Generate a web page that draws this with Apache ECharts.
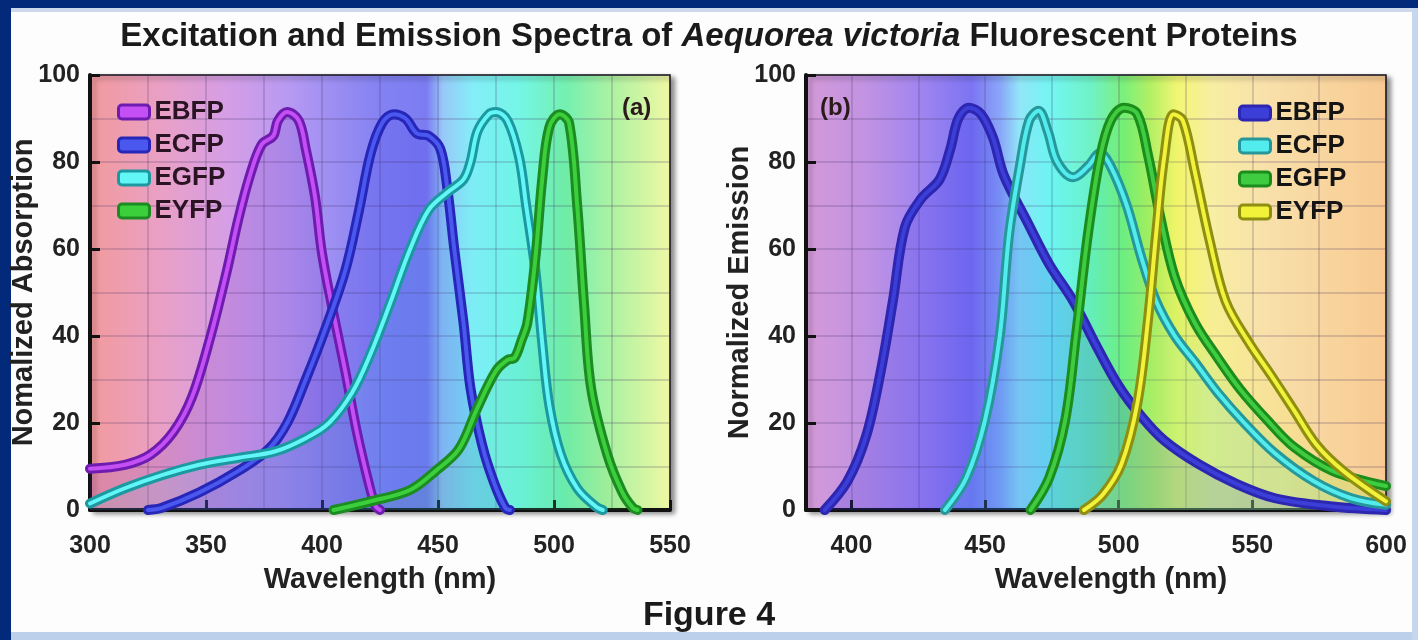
<!DOCTYPE html>
<html>
<head>
<meta charset="utf-8">
<script src="https://cdn.jsdelivr.net/npm/echarts@6/dist/echarts.min.js"></script>
<style>
  html, body { margin: 0; padding: 0; background: #02297a; }
  #wrap { position: relative; width: 1418px; height: 640px; overflow: hidden; background: #02297a; }
  .panel { position: absolute; left: 11px; top: 8px; width: 1401px; height: 624px; background: #fdfdfd; border-top: 4px solid #cdd8ec; box-sizing: border-box; }
  .strip-b { position: absolute; left: 11px; top: 632px; width: 1407px; height: 8px; background: #bcd0ec; }
  .strip-r { position: absolute; left: 1412px; top: 8px; width: 6px; height: 632px; background: #c6d6ee; }
  #chart { position: absolute; left: 0; top: 0; width: 1418px; height: 640px; }
</style>
</head>
<body>
<div id="wrap">
  <div class="panel"></div>
  <div class="strip-b"></div>
  <div class="strip-r"></div>
  <div id="chart"></div>
</div>
<script>
// panel (a): absorption, [wavelength nm, normalized value]
const absEBFP = [[300,9.5],[315,10.4],[326,12.7],[336,18],[344,26],[352,40],[359,55],[364,67],[369,77],[374,84],[379,86],[381,89.5],[385,91.5],[390,89.5],[393,83],[397,72],[400,59],[405,45],[410,32],[415,18],[420,6.5],[423,1],[425,0]]
const absECFP = [[325,0],[331,0.5],[347,4],[364,9],[377,14],[385,20],[393,30],[401,41],[410,55],[416,69],[421,82],[426,89],[431,91],[436,90],[441,86.5],[446,86],[451,83],[454,74],[457,60],[461,43],[464,28],[469,15],[474,6.5],[479,0.5],[481,0]]
const absEGFP = [[300,1.5],[315,5],[331,8],[347,10.4],[364,12],[380,13.5],[393,16.5],[403,20],[413,27],[421,36],[429,47],[438,60],[446,69],[454,73],[461,76],[464,80],[467,87],[472,91],[475,91.5],[480,89.5],[485,81],[488,70],[492,55],[495,38],[498,24],[503,12.7],[510,5],[518,0.8],[521,0]]
const absEYFP = [[405,0],[421,2],[438,4.6],[449,9],[459,14],[467,23.5],[475,32],[480,34.5],[483,35],[486,39],[488.5,43],[492,58],[495,76.5],[498,88],[502.5,91],[506.5,89],[510,70],[513,47],[516,28],[523,12.7],[529.5,4],[534,0.5],[536,0]]

// panel (b): emission
const emEBFP = [[390,0],[398.5,6.6],[405.5,17],[411,32],[415.5,48],[420,65],[426,71.5],[433,76],[437,83],[440,90],[444,92.5],[448.5,91],[453,85.5],[457,77],[466,66],[474,56.5],[483,48],[491,38.5],[500,28.5],[508.5,21.5],[517,16],[530,10.5],[544,6],[558.5,2.7],[580,0.8],[600,0]]
const emECFP = [[435,0],[443,7.4],[450,20.7],[455.5,40],[459,63.5],[463,79],[466.5,89.5],[470,91.8],[473.5,87],[477,80],[483,76.5],[488.5,79],[493,82],[497,79],[503,70],[508.5,58],[514,48],[521,40],[528.5,34],[537,27],[547,20],[558.5,13],[573,6.6],[587,2.7],[600,1.2]]
const emEGFP = [[467,0],[474,7.4],[480,20.7],[484,40],[488.5,63.5],[493,81],[497,89.5],[502,92.5],[507,91],[511,81.5],[515.5,67.5],[521,53.5],[528.5,43],[537,35],[545.5,27.7],[555.5,20.7],[565.5,14.5],[580,9],[600,5.5]]
const emEYFP = [[487,0],[494,3.5],[501,10.5],[507,24.6],[511,44],[514,63.5],[517,81],[520.5,91],[524,89.5],[528.5,77.7],[534,62],[540,48],[548.5,38.7],[557,31],[565.5,23],[574,15],[584,9],[600,2]]

const proteins = ['EBFP', 'ECFP', 'EGFP', 'EYFP']

const FONT = '"Liberation Sans", Arial, sans-serif'
const gridColor = 'rgba(70,50,100,0.2)'

// spectrum colours behind each plot, keyed by wavelength
const absBand = [[300,'#f29a9c'],[330,'#eaa0c4'],[360,'#d59ee6'],[385,'#b89af2'],[405,'#9c8ef2'],[425,'#8482f2'],[445,'#7c7cf2'],[452,'#98c8f8'],[465,'#84eef8'],[485,'#74f6e6'],[505,'#74f0b0'],[525,'#aef2a2'],[550,'#f0f8a4']]
const emBand = [[383,'#d49ad8'],[405,'#c293e2'],[425,'#a286f0'],[445,'#7c74f2'],[456,'#8aa8f8'],[463,'#92e6f8'],[475,'#72f6f2'],[490,'#70f2c4'],[502,'#7cf07a'],[512,'#b4f064'],[522,'#f2f674'],[535,'#f8eea4'],[555,'#f8e0aa'],[600,'#f8ca92']]

function band(stops, min, max) {
  return new echarts.graphic.LinearGradient(0, 0, 1, 0,
    stops.map(s => ({ offset: (s[0] - min) / (max - min), color: s[1] })))
}

function gridBox(left, bg) {
  return {
    left: left, top: 75, width: 580, height: 435,
    show: true, backgroundColor: bg,
    borderColor: '#111', borderWidth: 1.5,
    shadowColor: 'rgba(0,0,0,0.45)', shadowBlur: 5, shadowOffsetX: 4, shadowOffsetY: 3,
    outerBoundsMode: 'none'
  }
}

const labelStyle = { fontFamily: FONT, fontWeight: 'bold', fontSize: 25, color: '#222' }
const nameStyle = { fontFamily: FONT, fontWeight: 'bold', fontSize: 29, color: '#222' }

function xAxis(gi, min, max, extra) {
  return Object.assign({
    type: 'value', gridIndex: gi, min: min, max: max,
    name: 'Wavelength (nm)', nameLocation: 'middle', nameGap: 55, nameMoveOverlap: false,
    nameTextStyle: nameStyle,
    axisLine: { show: true, onZero: false, lineStyle: { color: '#111', width: 4 } },
    axisTick: { show: true, inside: true, length: 10, lineStyle: { color: '#111', width: 3 } },
    axisLabel: Object.assign({ margin: 24 }, labelStyle),
    splitLine: { show: true, lineStyle: { color: gridColor, width: 2 } },
    minorTick: { show: false, splitNumber: 2 },
    minorSplitLine: { show: true, lineStyle: { color: gridColor, width: 2 } }
  }, extra)
}

function yAxis(gi, name) {
  return {
    type: 'value', gridIndex: gi, min: 0, max: 100, interval: 20,
    name: name, nameLocation: 'middle', nameGap: 52, nameMoveOverlap: false,
    nameTextStyle: nameStyle,
    axisLine: { show: true, onZero: false, lineStyle: { color: '#111', width: 4 } },
    axisTick: { show: true, inside: true, length: 10, lineStyle: { color: '#111', width: 3 } },
    axisLabel: Object.assign({ margin: 10 }, labelStyle),
    splitLine: { show: true, lineStyle: { color: gridColor, width: 2 } },
    minorTick: { show: false, splitNumber: 2 },
    minorSplitLine: { show: true, lineStyle: { color: gridColor, width: 2 } }
  }
}

// one curve = soft fill + dark outline + bright core
function curve(name, data, gi, k, outer, core, fill) {
  const base = { name: name, type: 'line', xAxisIndex: gi, yAxisIndex: gi, data: data,
    smooth: 0.35, symbol: 'none', silent: true, itemStyle: { color: core } }
  return [
    Object.assign({}, base, { z: 2, lineStyle: { width: 0 }, areaStyle: { color: fill, origin: 'start' } }),
    Object.assign({}, base, { z: 3 + 2 * k, lineStyle: { color: outer, width: 10, cap: 'round', join: 'round' } }),
    Object.assign({}, base, { z: 4 + 2 * k, lineStyle: { color: core, width: 4, cap: 'round', join: 'round' } })
  ]
}

function legendFor(left, top, textColor, styles) {
  return {
    left: left, top: top, orient: 'vertical', icon: 'roundRect', selectedMode: false,
    itemWidth: 31, itemHeight: 14, itemGap: 7,
    textStyle: { fontFamily: FONT, fontWeight: 'bold', fontSize: 26, color: textColor },
    data: proteins.map((p, i) => ({ name: p, itemStyle: { color: styles[i][1], borderColor: styles[i][0], borderWidth: 3 } }))
  }
}

const absStyle = [['#6e1cb0', '#c450f5'], ['#2626b8', '#4a58f0'], ['#1c98a0', '#62f6f6'], ['#1c8c22', '#3ccf3c']]
const emStyle = [['#2c26b0', '#3c3ed8'], ['#27989a', '#52ecef'], ['#1c8c1c', '#40cc40'], ['#8e8e10', '#f2f23a']]

const chart = echarts.init(document.getElementById('chart'), null, { renderer: 'canvas' })
chart.setOption({
  animation: false,
  backgroundColor: 'transparent',
  title: [
    {
      text: '{a|Excitation and Emission Spectra of }{b|Aequorea victoria}{a| Fluorescent Proteins}',
      left: 'center', top: 15,
      textStyle: { rich: {
        a: { fontFamily: FONT, fontWeight: 'bold', fontSize: 33, color: '#1a1a1a' },
        b: { fontFamily: FONT, fontWeight: 'bold', fontStyle: 'italic', fontSize: 33, color: '#1a1a1a' }
      } }
    },
    {
      text: 'Figure 4', left: 'center', top: 594,
      textStyle: { fontFamily: FONT, fontWeight: 'bold', fontSize: 34, color: '#1a1a1a' }
    }
  ],
  grid: [gridBox(90, band(absBand, 300, 550)), gridBox(806, band(emBand, 383, 600))],
  xAxis: [
    xAxis(0, 300, 550, { interval: 50 }),
    xAxis(1, 383, 600, { splitNumber: 4, minInterval: 50, maxInterval: 50,
      nameTextStyle: Object.assign({ padding: [0, 0, 0, 30] }, nameStyle),
      axisLabel: Object.assign({ margin: 24, showMinLabel: false }, labelStyle) })
  ],
  yAxis: [yAxis(0, 'Nomalized Absorption'), yAxis(1, 'Normalized Emission')],
  legend: [
    legendFor(112, 94, '#2a1424', absStyle),
    legendFor(1233, 95, '#141414', emStyle)
  ],
  graphic: [
    { type: 'text', left: 622, top: 96, z: 50, style: { text: '(a)', font: 'bold 24px "Liberation Sans"', fill: '#2a1a1a' } },
    { type: 'text', left: 820, top: 96, z: 50, style: { text: '(b)', font: 'bold 24px "Liberation Sans"', fill: '#2a1a1a' } }
  ],
  series: [].concat(
    curve('EBFP', absEBFP, 0, 0, absStyle[0][0], absStyle[0][1], 'rgba(100,30,180,0.22)'),
    curve('ECFP', absECFP, 0, 1, absStyle[1][0], absStyle[1][1], 'rgba(40,40,220,0.22)'),
    curve('EGFP', absEGFP, 0, 2, absStyle[2][0], absStyle[2][1], 'rgba(60,230,230,0.14)'),
    curve('EYFP', absEYFP, 0, 3, absStyle[3][0], absStyle[3][1], 'rgba(60,200,60,0.12)'),
    curve('EBFP', emEBFP, 1, 0, emStyle[0][0], emStyle[0][1], 'rgba(50,50,230,0.3)'),
    curve('ECFP', emECFP, 1, 1, emStyle[1][0], emStyle[1][1], 'rgba(60,240,240,0.18)'),
    curve('EGFP', emEGFP, 1, 2, emStyle[2][0], emStyle[2][1], 'rgba(60,220,60,0.18)'),
    curve('EYFP', emEYFP, 1, 3, emStyle[3][0], emStyle[3][1], 'rgba(240,240,60,0.22)')
  )
})
</script>
</body>
</html>
